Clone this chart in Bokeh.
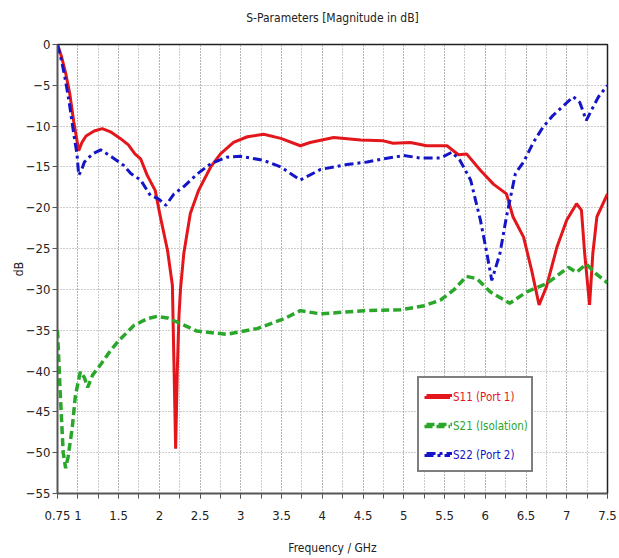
from bokeh.plotting import figure
from bokeh.models import FixedTicker, Legend, LegendItem, Title
from bokeh.embed import file_html
from bokeh.resources import INLINE

# ---- data ----
f_s11 = [0.75, 0.80, 0.85, 0.90, 0.95, 1.01, 1.05, 1.10, 1.20, 1.30, 1.40, 1.52, 1.62, 1.70, 1.77,
         1.85, 1.95, 2.01, 2.10, 2.16, 2.18, 2.20, 2.22, 2.24, 2.26, 2.30, 2.38, 2.48, 2.63, 2.75,
         2.91, 3.08, 3.28, 3.49, 3.73, 3.85, 4.14, 4.47, 4.75, 4.87, 5.08, 5.28, 5.53, 5.67, 5.77,
         5.94, 6.10, 6.26, 6.34, 6.47, 6.57, 6.66, 6.75, 6.88, 7.00, 7.12, 7.18, 7.22, 7.28, 7.32,
         7.37, 7.50]
s11 = [0.0, -1.5, -3.5, -6.0, -9.5, -13.0, -12.0, -11.2, -10.6, -10.3, -10.7, -11.5, -12.3, -13.4, -14.0,
       -16.0, -17.9, -21.0, -25.2, -29.5, -39.5, -49.5, -40.0, -33.4, -29.9, -25.6, -20.7, -17.9, -15.0, -13.4,
       -12.0, -11.3, -11.0, -11.5, -12.4, -12.0, -11.4, -11.7, -11.8, -12.1, -12.0, -12.4, -12.4, -13.5, -13.4,
       -15.4, -17.1, -18.3, -21.1, -23.6, -27.7, -31.9, -29.7, -24.8, -21.5, -19.5, -20.3, -25.6, -31.9, -25.6,
       -21.1, -18.3]

f_s21 = [0.75, 0.78, 0.82, 0.85, 0.88, 0.93, 0.97, 1.03, 1.08, 1.12, 1.18, 1.28, 1.40, 1.50, 1.69,
         1.85, 1.97, 2.10, 2.22, 2.46, 2.83, 3.20, 3.53, 3.73, 3.98, 4.51, 4.96, 5.25, 5.45, 5.61,
         5.77, 5.90, 6.06, 6.30, 6.51, 6.75, 7.02, 7.12, 7.24, 7.35, 7.50]
s21 = [-35.0, -42.0, -50.0, -51.9, -50.5, -47.0, -43.0, -40.1, -40.8, -42.0, -40.5, -39.2, -37.5, -36.3, -34.4,
       -33.6, -33.3, -33.5, -34.0, -35.1, -35.5, -34.8, -33.6, -32.6, -33.0, -32.6, -32.5, -32.0, -31.3, -30.1,
       -28.4, -28.7, -30.3, -31.7, -30.3, -29.3, -27.3, -27.9, -26.9, -28.0, -29.2]

f_s22 = [0.75, 0.80, 0.85, 0.90, 0.95, 0.99, 1.01, 1.04, 1.08, 1.18, 1.28, 1.42, 1.56, 1.65, 1.77,
         1.89, 1.99, 2.08, 2.18, 2.30, 2.46, 2.63, 2.83, 2.99, 3.12, 3.28, 3.49, 3.73, 3.98, 4.30,
         4.55, 4.75, 5.00, 5.20, 5.45, 5.59, 5.69, 5.82, 5.94, 6.02, 6.08, 6.18, 6.26, 6.37, 6.47,
         6.59, 6.71, 6.83, 6.96, 7.08, 7.16, 7.24, 7.30, 7.39, 7.50]
s22 = [0.0, -2.0, -4.5, -7.5, -11.0, -13.5, -16.0, -15.5, -14.4, -13.4, -12.9, -13.8, -14.8, -15.8, -16.6,
       -18.5, -18.9, -19.7, -18.3, -17.4, -15.9, -14.6, -13.8, -13.7, -13.9, -14.2, -15.0, -16.6, -15.3, -14.7,
       -14.4, -14.0, -13.6, -13.9, -13.9, -13.2, -14.2, -16.6, -21.5, -25.6, -28.9, -25.6, -21.1, -15.8, -14.4,
       -12.0, -10.1, -8.7, -7.5, -6.4, -7.1, -9.3, -8.1, -6.4, -5.0]

series_names = ["S11 (Port 1)", "S21 (Isolation)", "S22 (Port 2)"]
series_colors = ["#e3161b", "#2aa62a", "#1515c8"]

x_label_ticks = [0.75, 1, 1.5, 2, 2.5, 3, 3.5, 4, 4.5, 5, 5.5, 6, 6.5, 7, 7.5]
x_minor_ticks = [0.75 + 0.25 * i for i in range(28)]
y_ticks = [0, -5, -10, -15, -20, -25, -30, -35, -40, -45, -50, -55]
title_text = "S-Parameters [Magnitude in dB]"

FONT = "DejaVu Sans Condensed"

p = figure(width=619, height=558, x_range=(0.75, 7.5), y_range=(-55, 0),
           output_backend="svg", toolbar_location=None,
           min_border_left=57, min_border_right=12, min_border_top=44, min_border_bottom=65,
           title=title_text)
p.background_fill_color = "white"
p.border_fill_color = "white"
p.outline_line_color = "#222222"
p.outline_line_width = 1.5

p.title.align = "center"
p.title.text_font = FONT
p.title.text_font_size = "12px"
p.title.text_font_style = "normal"
p.title.text_color = "#222222"
p.title.standoff = 10

# blank spacer between title and plot frame
p.add_layout(Title(text="\u00a0", text_font_size="1px", standoff=12), "above")

p.xaxis.ticker = FixedTicker(ticks=x_label_ticks, minor_ticks=x_minor_ticks)
p.xaxis.major_label_overrides = {t: ("%g" % t) for t in x_label_ticks}
p.yaxis.ticker = FixedTicker(ticks=y_ticks)
p.xaxis.axis_label = "Frequency / GHz"
p.yaxis.axis_label = "dB"

for ax in (p.xaxis[0], p.yaxis[0]):
    ax.axis_line_color = "#555555"
    ax.axis_line_width = 1.5
    ax.major_tick_line_color = "#555555"
    ax.minor_tick_line_color = "#555555"
    ax.major_tick_out = 5
    ax.major_tick_in = 0
    ax.minor_tick_out = 5
    ax.minor_tick_in = 0
    ax.major_label_text_font = FONT
    ax.major_label_text_font_size = "13px"
    ax.major_label_text_color = "#222222"
    ax.axis_label_text_font = FONT
    ax.axis_label_text_font_size = "12px"
    ax.axis_label_text_font_style = "normal"
    ax.axis_label_text_color = "#222222"

p.xaxis.major_label_standoff = 12
p.xaxis.axis_label_standoff = 18
p.yaxis.major_label_standoff = 2
p.yaxis.axis_label_standoff = -3

for g in (p.xgrid[0], p.ygrid[0]):
    g.grid_line_color = "#9a9a9a"
    g.grid_line_dash = "1 2"
    g.grid_line_width = 1
p.xgrid.minor_grid_line_color = "#9a9a9a"
p.xgrid.minor_grid_line_dash = "1 2"
p.xgrid.minor_grid_line_width = 1

r11 = p.line(f_s11, s11, line_color=series_colors[0], line_width=3)
r21 = p.line(f_s21, s21, line_color=series_colors[1], line_width=3.5, line_dash="8 4")
r22 = p.line(f_s22, s22, line_color=series_colors[2], line_width=3, line_dash="9 4 3 4")
renderers = [r11, r21, r22]

PAD, SPACING, LH, GW = 7, 9, 20, 26
LX, LY = 360, 21
total_h = 2 * PAD + 3 * LH + 2 * SPACING

common = dict(padding=PAD, spacing=SPACING, label_height=LH, glyph_height=LH, glyph_width=GW,
              label_standoff=3, margin=0, label_text_font=FONT, label_text_font_size="11.5px")

blank = "\u00a0" * 21
main = Legend(items=[LegendItem(label=blank, renderers=[r]) for r in renderers],
              location=(LX, LY), border_line_color="black", border_line_width=2,
              background_fill_color="white", background_fill_alpha=1.0, **common)
p.add_layout(main, "center")

for i, (n, r, c) in enumerate(zip(series_names, renderers, series_colors)):
    y = LY + total_h - (2 * PAD + LH) - i * (LH + SPACING)
    lg = Legend(items=[LegendItem(label=n, renderers=[r])], location=(LX, y),
                border_line_alpha=0.0, background_fill_alpha=0.0,
                label_text_color=c, **common)
    p.add_layout(lg, "center")

open("out.html", "w").write(file_html(p, INLINE))
